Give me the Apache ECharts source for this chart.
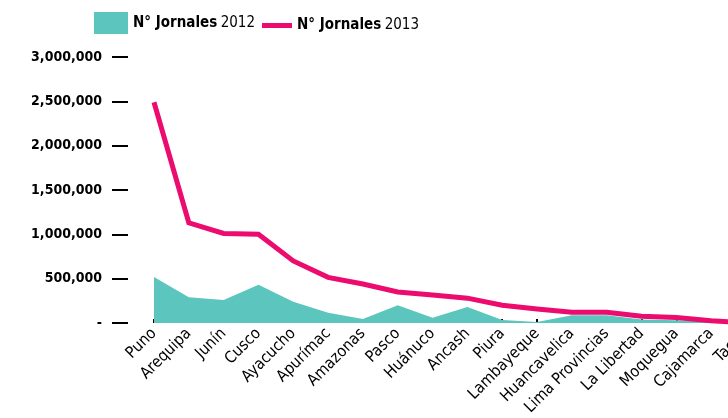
<!DOCTYPE html>
<html>
<head>
<meta charset="utf-8">
<script src="https://cdn.jsdelivr.net/npm/echarts@6/dist/echarts.min.js"></script>
<style>
  html, body { margin: 0; padding: 0; background: #fff; }
  #chart { width: 728px; height: 418px; }
</style>
</head>
<body>
<div id="chart"></div>
<script>
// regiones (la última queda cortada por el borde)
const regiones = [
  "Puno", "Arequipa", "Junín", "Cusco", "Ayacucho", "Apurímac", "Amazonas",
  "Pasco", "Huánuco", "Ancash", "Piura", "Lambayeque", "Huancavelica",
  "Lima Provincias", "La Libertad", "Moquegua", "Cajamarca", "Tacna",
];

const jornales2012 = [
  520000, 290000, 260000, 430000, 240000, 115000, 45000, 200000, 60000,
  180000, 35000, 10000, 88000, 88000, 40000, 30000, 12000, 5000,
];

const jornales2013 = [
  2490000, 1130000, 1010000, 1000000, 700000, 515000, 440000, 350000, 315000,
  280000, 200000, 158000, 120000, 120000, 75000, 62000, 26000, 4000,
];

const yTicks = [0, 500000, 1000000, 1500000, 2000000, 2500000, 3000000];

const TEAL = "#5cc5be";
const PINK = "#ec0b6e";
const AXIS_FONT = "'DejaVu Sans Condensed', 'Liberation Sans Narrow', sans-serif";
const LEG_FONT = "'DejaVu Sans Condensed', sans-serif";

function legendFmt(name) {
  const parts = name.split(" ");
  const year = parts.pop();
  return "{b|" + parts.join(" ") + "} {n|" + year + "}";
}

const legendText = {
  fontFamily: LEG_FONT,
  color: "#000",
  rich: {
    b: { fontFamily: LEG_FONT, fontWeight: "bold", fontSize: 15, color: "#000" },
    n: { fontFamily: LEG_FONT, fontWeight: "normal", fontSize: 15, color: "#000" },
  },
};

let myChart = echarts.init(document.getElementById("chart"));
let option = {
  animation: false,
  backgroundColor: "#fff",
  legend: [
    {
      data: [{ name: "N° Jornales 2012", icon: "rect" }],
      left: 94,
      top: 12,
      padding: 0,
      itemWidth: 34,
      itemHeight: 22,
      itemGap: 5,
      formatter: legendFmt,
      textStyle: legendText,
      selectedMode: false,
    },
    {
      data: [{ name: "N° Jornales 2013", icon: "rect" }],
      left: 262,
      top: 18,
      padding: 0,
      itemWidth: 30,
      itemHeight: 5,
      formatter: legendFmt,
      textStyle: legendText,
      selectedMode: false,
    },
  ],
  grid: {
    left: 154,
    right: -18,
    top: 57,
    bottom: 95,
    containLabel: false,
    outerBoundsMode: "none",
  },
  xAxis: {
    type: "category",
    data: regiones,
    boundaryGap: false,
    axisLine: { show: false },
    axisTick: {
      show: true,
      inside: true,
      length: 4,
      lineStyle: { color: "#000", width: 2 },
    },
    axisLabel: {
      rotate: 45,
      margin: 8,
      interval: 0,
      color: "#000",
      fontFamily: AXIS_FONT,
      fontSize: 16,
    },
    splitLine: { show: false },
  },
  yAxis: {
    type: "value",
    min: yTicks[0],
    max: yTicks[yTicks.length - 1],
    interval: yTicks[1] - yTicks[0],
    offset: 26,
    axisLine: { show: false },
    axisTick: {
      show: true,
      length: 16,
      lineStyle: { color: "#000", width: 2 },
    },
    axisLabel: {
      margin: 26,
      color: "#000",
      fontFamily: AXIS_FONT,
      fontWeight: "bold",
      fontSize: 14,
      formatter: function (v) {
        return v === 0 ? "-" : v.toLocaleString("en-US");
      },
    },
    splitLine: { show: false },
  },
  series: [
    {
      name: "N° Jornales 2012",
      type: "line",
      data: jornales2012,
      symbol: "none",
      color: TEAL,
      lineStyle: { width: 0, color: TEAL },
      areaStyle: { color: TEAL, opacity: 1 },
      z: 1,
    },
    {
      name: "N° Jornales 2013",
      type: "line",
      data: jornales2013,
      symbol: "none",
      color: PINK,
      lineStyle: { width: 5, color: PINK, join: "miter" },
      z: 3,
    },
  ],
};
myChart.setOption(option);
</script>
</body>
</html>
